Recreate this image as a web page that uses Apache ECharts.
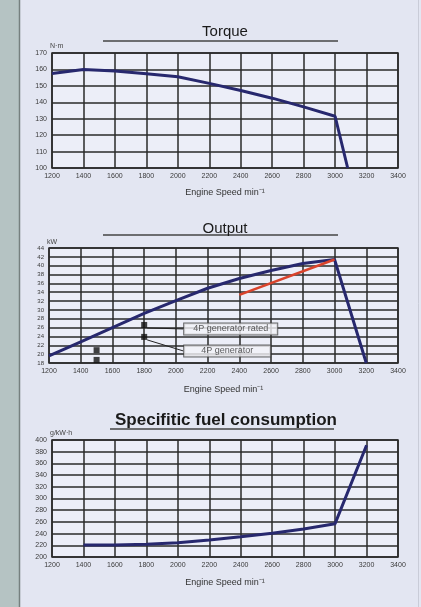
<!DOCTYPE html>
<html><head><meta charset="utf-8">
<script src="https://cdn.jsdelivr.net/npm/echarts@6/dist/echarts.min.js"></script>
<style>html,body{margin:0;padding:0;background:#e3e6f2}#c{width:421px;height:607px}</style>
</head><body><div id="c"></div>
<script>
// ---- data ----
const speedTicks = [1200,1400,1600,1800,2000,2200,2400,2600,2800,3000,3200,3400];
const torqueSpeed = [1200,1400,1600,1800,2000,2200,2400,2600,2800,3000,3080];
const torqueValues = [157.5,160,159,157.3,155.5,151.5,147.2,142.5,137.2,131.5,100];
const outputSpeed = [1200,1400,1600,1800,2000,2200,2400,2600,2800,3000,3200];
const outputValues = [19.6,22.8,26.0,29.2,32.1,34.9,37.1,38.9,40.5,41.4,18];
const ratedSpeed = [2400,3000];
const ratedValues = [33.4,41.4];
const gen4PRatedSpeed = [1500,1800];
const gen4PRatedValues = [20.9,26.6];
const gen4PSpeed = [1500,1800];
const gen4PValues = [18.7,23.9];
const fuelSpeed = [1400,1600,1800,2000,2200,2400,2600,2800,3000,3200];
const fuelValues = [220.5,220.5,222,224.5,229,234.5,240.5,248,257,391];
const titles = ['Torque','Output','Specifitic fuel consumption'];
const yUnits = ['N·m','kW','g/kW·h'];
const xName = 'Engine Speed min⁻¹';

const pairs = (xs, ys) => xs.map((x, i) => [x, ys[i]]);
const font = 'Liberation Sans, Arial, sans-serif';
const gridCol = '#2a2a2a';
const lineCol = '#27286e';

const grids = [
  {left:52, right:23, top:53, height:115},
  {left:49, right:23, top:248, height:115},
  {left:52, right:23, top:440, height:117}
].map(g => Object.assign(g, {show:true, backgroundColor:'#eceef8', borderColor:gridCol, borderWidth:1.5}));

const xAxes = [0,1,2].map(i => ({
  type:'value', gridIndex:i, min:1200, max:3400, interval:200,
  name:xName, nameLocation:'middle', nameGap:[20,22,21][i],
  nameTextStyle:{fontFamily:font, fontSize:9, color:'#333'},
  axisLine:{show:false}, axisTick:{show:false},
  axisLabel:{fontFamily:font, fontSize:7, color:'#3a3a3a', margin:5, formatter: v => String(v)},
  splitLine:{show:true, lineStyle:{color:gridCol, width:1.5}}
}));
const yRanges = [[100,170,10],[18,44,2],[200,400,20]];
const yAxes = [0,1,2].map(i => ({
  type:'value', gridIndex:i, min:yRanges[i][0], max:yRanges[i][1], interval:yRanges[i][2],
  name:yUnits[i], nameLocation:'end', nameGap:2,
  nameTextStyle:{fontFamily:font, fontSize:7, color:'#444', align:'left', padding:[0,0,0,-2]},
  axisLine:{show:false}, axisTick:{show:false},
  axisLabel:{fontFamily:font, fontSize:i===1?6:7, color:'#3a3a3a', margin:5},
  splitLine:{show:true, lineStyle:{color:gridCol, width:1.5}}
}));

const lineSeries = (xi, data, color, w) => ({
  type:'line', xAxisIndex:xi, yAxisIndex:xi, data, symbol:'none',
  lineStyle:{color, width:w}, silent:true, z:5
});
const boxLabel = {
  show:true, position:'right', fontFamily:font, fontSize:9, color:'#333',
  backgroundColor:'#f3f3f7', borderColor:'#444', borderWidth:1
};
const squares = (xs, ys, text, dy, pad) => ({
  type:'scatter', xAxisIndex:1, yAxisIndex:1, symbol:'rect', symbolSize:6,
  itemStyle:{color:'#111'}, z:6,
  data: xs.map((x, i) => i === xs.length - 1
    ? {value:[x, ys[i]], label:Object.assign({}, boxLabel, {formatter:text, padding:pad})}
    : {value:[x, ys[i]]}),
  label:{show:false},
  labelLayout:{dx:32, dy:dy},
  labelLine:{show:true, lineStyle:{color:'#222', width:1}}
});

const titleY = [28, 225, 418];
const underline = [[103,338,41],[103,338,235],[110,334,429]];

const chart = echarts.init(document.getElementById('c'), null, {renderer:'canvas'});
chart.setOption({
  backgroundColor:'#e3e6f2',
  animation:false,
  title: titles.map((t, i) => ({
    text:t, top:titleY[i]-(i===2?11:9),
    left: i===2 ? 110 : 220, textAlign: i===2 ? 'left' : 'center',
    textStyle:{fontFamily:font, fontSize:i===2?17:15, fontWeight:i===2?'bold':'normal', color:'#1a1a1a'}
  })),
  grid:grids, xAxis:xAxes, yAxis:yAxes,
  graphic:[
    {type:'rect', shape:{x:0,y:0,width:19,height:607}, style:{fill:'#b5c3c3'}, z:-1},
    {type:'line', shape:{x1:19.5,y1:0,x2:19.5,y2:607}, style:{stroke:'#76807f', lineWidth:1.5}},
    {type:'line', shape:{x1:418.5,y1:0,x2:418.5,y2:607}, style:{stroke:'#c9ccd8', lineWidth:1}},
    ...underline.map(u => ({type:'line', shape:{x1:u[0],y1:u[2],x2:u[1],y2:u[2]}, style:{stroke:'#444', lineWidth:1.5}}))
  ],
  series:[
    lineSeries(0, pairs(torqueSpeed, torqueValues), lineCol, 3),
    lineSeries(1, pairs(outputSpeed, outputValues), lineCol, 3),
    lineSeries(1, pairs(ratedSpeed, ratedValues), '#d9432c', 2.5),
    lineSeries(2, pairs(fuelSpeed, fuelValues), lineCol, 3),
    squares(gen4PRatedSpeed, gen4PRatedValues, '4P generator rated', 4, [1,9,1,9]),
    squares(gen4PSpeed, gen4PValues, '4P generator', 14, [1,17,1,17])
  ]
});
</script></body></html>
